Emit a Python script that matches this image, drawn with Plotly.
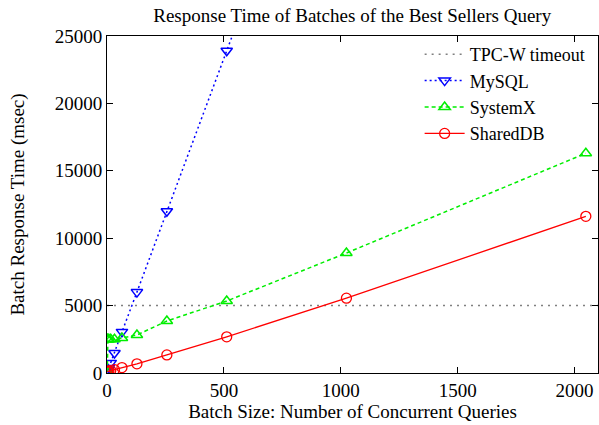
import plotly.graph_objects as go

batch_sizes = [1, 2, 4, 8, 16, 32, 64, 128, 256, 512, 1024, 2048]
mysql_x = [1, 2, 4, 8, 16, 32, 64, 128, 256, 512, 1024]
mysql = [50, 100, 190, 380, 750, 1480, 3050, 6000, 12000, 23900, 47800]
systemx = [100, 2500, 2500, 2500, 2500, 2500, 2600, 2820, 3860, 5340, 8900, 16300]
shareddb = [100, 110, 120, 140, 180, 250, 400, 680, 1340, 2680, 5550, 11620]
timeout_x = [0, 2100]
timeout_y = [5000, 5000]
x_ticks = [0, 500, 1000, 1500, 2000]
y_ticks = [0, 5000, 10000, 15000, 20000, 25000]

FONT = "Liberation Serif"
FS = 19

fig = go.Figure()
fig.add_trace(go.Scatter(x=timeout_x, y=timeout_y, mode="lines", name="TPC-W timeout",
                         line=dict(color="#808080", width=1.5, dash="2px,5px")))
fig.add_trace(go.Scatter(x=mysql_x, y=mysql, mode="lines+markers", name="MySQL",
                         line=dict(color="#0000ff", width=1.5, dash="2px,3px"),
                         marker=dict(symbol="triangle-down-open", size=10, color="#0000ff", line=dict(width=1.5))))
fig.add_trace(go.Scatter(x=batch_sizes, y=systemx, mode="lines+markers", name="SystemX",
                         line=dict(color="#00ee00", width=1.5, dash="4px,3px"),
                         marker=dict(symbol="triangle-up-open", size=10, color="#00ee00", line=dict(width=1.5))))
fig.add_trace(go.Scatter(x=batch_sizes, y=shareddb, mode="lines+markers", name="SharedDB",
                         line=dict(color="#ff0000", width=1.3),
                         marker=dict(symbol="circle-open", size=10, color="#ff0000", line=dict(width=1.3))))

axis_common = dict(showgrid=False, zeroline=False, showline=True, linecolor="black", linewidth=1,
                   mirror="ticks", ticks="inside", ticklen=6, tickcolor="black", automargin=False,
                   tickfont=dict(family=FONT, size=FS, color="black"))

fig.update_layout(
    width=599, height=425,
    margin=dict(l=107, r=1, t=36, b=52),
    paper_bgcolor="white", plot_bgcolor="white",
    title=dict(text="Response Time of Batches of the Best Sellers Query", x=0.588, xanchor="center",
               y=0.965, yanchor="middle", font=dict(family=FONT, size=FS, color="black")),
    xaxis=dict(range=[0, 2100], tickvals=x_ticks, ticktext=[str(v) for v in x_ticks],
               title=dict(text="Batch Size: Number of Concurrent Queries", standoff=2,
                          font=dict(family=FONT, size=FS, color="black")), **axis_common),
    yaxis=dict(range=[0, 25000], tickvals=y_ticks, ticktext=[str(v) for v in y_ticks],
               title=dict(text="Batch Response Time (msec)", standoff=25,
                          font=dict(family=FONT, size=FS, color="black")), **axis_common),
    legend=dict(x=0.985, xanchor="right", y=1.0, yanchor="top", bgcolor="rgba(0,0,0,0)",
                font=dict(family=FONT, size=18, color="black"), tracegroupgap=0, itemwidth=40),
    showlegend=True,
)

fig.write_html("out.html", config={"displayModeBar": False},
               post_script="document.body.style.margin='0';document.body.style.overflow='hidden';")
